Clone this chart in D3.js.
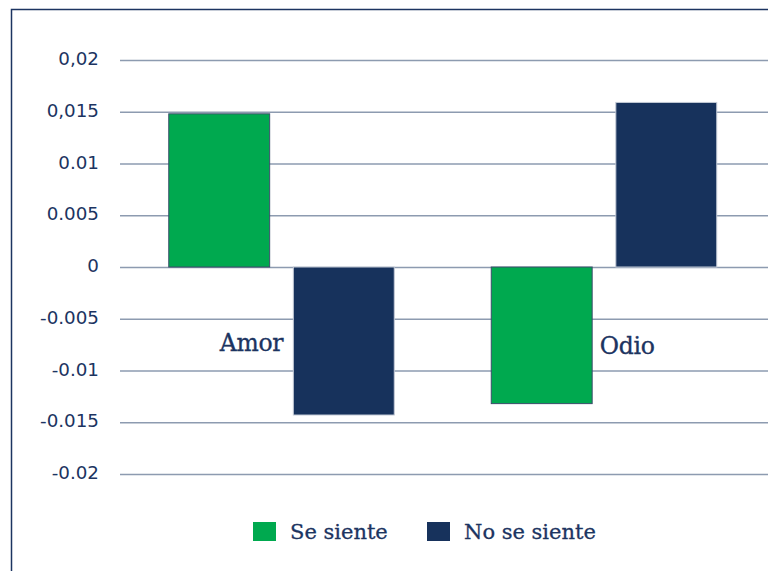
<!DOCTYPE html>
<html><head><meta charset="utf-8">
<script src="https://cdn.jsdelivr.net/npm/d3@7"></script>
<style>body{margin:0;background:#fff}svg{display:block}</style>
</head><body>
<script>
const categories = ["Amor", "Odio"];
const seriesNames = ["Se siente", "No se siente"];
const seSiente = [0.0148, -0.0132];
const noSeSiente = [-0.0143, 0.0159];
const tickValues = [0.02, 0.015, 0.01, 0.005, 0, -0.005, -0.01, -0.015, -0.02];
const tickLabels = ["0,02", "0,015", "0.01", "0.005", "0", "-0.005", "-0.01", "-0.015", "-0.02"];
const colors = ["#00a94f", "#17325c"];

const W = 768, H = 571;
const svg = d3.select("body").append("svg").attr("width", W).attr("height", H);
const navy = "#1c3461";

svg.append("rect").attr("x", 11.5).attr("y", 9.5).attr("width", 900).attr("height", 700)
  .attr("fill", "none").attr("stroke", navy).attr("stroke-width", 1.5);

const y = d3.scaleLinear().domain([-0.02, 0.02]).range([474, 60]);
const x0 = d3.scaleBand().domain(categories).range([120, 765]);
const x1 = d3.scaleBand().domain(seriesNames).range([48.75, 274.25]).paddingInner(0.19);

// gridlines + labels via axis
const yAxis = d3.axisLeft(y).tickValues(tickValues)
  .tickFormat((d, i) => tickLabels[i]).tickSize(-(W - 120)).tickPadding(21);
const ag = svg.append("g").attr("transform", "translate(120,0)").call(yAxis);
ag.select(".domain").remove();
ag.selectAll(".tick line").attr("stroke", "#8d9bb0").attr("stroke-width", 1.6);
ag.selectAll(".tick text").attr("fill", navy).attr("font-family", "DejaVu Sans")
  .attr("font-size", 18.3).attr("dy", "0.25em");

// category labels (drawn before bars)
const catStyle = sel => sel.attr("fill", navy).attr("stroke", navy).attr("stroke-width", 0.35)
  .attr("font-family", "DejaVu Serif").attr("font-size", 23.5).attr("letter-spacing", -0.3);
svg.append("text").text(categories[0]).attr("x", x0(categories[0]) + x0.bandwidth()/2 + 2)
  .attr("y", 351).attr("text-anchor", "end").call(catStyle);
svg.append("text").text(categories[1]).attr("x", x0(categories[1]) + x0.bandwidth()/2 - 4)
  .attr("y", 354).attr("text-anchor", "start").call(catStyle);

const rows = categories.map((c, i) => ({cat: c, vals: [seSiente[i], noSeSiente[i]]}));
const g = svg.selectAll("g.grp").data(rows).join("g").attr("class", "grp")
  .attr("transform", d => `translate(${x0(d.cat)},0)`);
g.selectAll("rect").data(d => d.vals.map((v, j) => ({v, s: seriesNames[j], j})))
  .join("rect")
  .attr("x", d => x1(d.s)).attr("width", x1.bandwidth())
  .attr("y", d => y(Math.max(0, d.v))).attr("height", d => Math.abs(y(d.v) - y(0)))
  .attr("fill", d => colors[d.j])
  .attr("stroke", d => d.j === 0 ? "#3b4d6b" : "#c3cad6").attr("stroke-width", 1);

// legend
const legX = [253, 427];
seriesNames.forEach((s, i) => {
  svg.append("rect").attr("x", legX[i]).attr("y", 522).attr("width", 23).attr("height", 19)
    .attr("fill", colors[i]);
  svg.append("text").text(s).attr("x", legX[i] + 37).attr("y", 538.5)
    .attr("fill", navy).attr("stroke", navy).attr("stroke-width", 0.3)
    .attr("font-family", "DejaVu Serif").attr("font-size", 21);
});
</script>
</body></html>
